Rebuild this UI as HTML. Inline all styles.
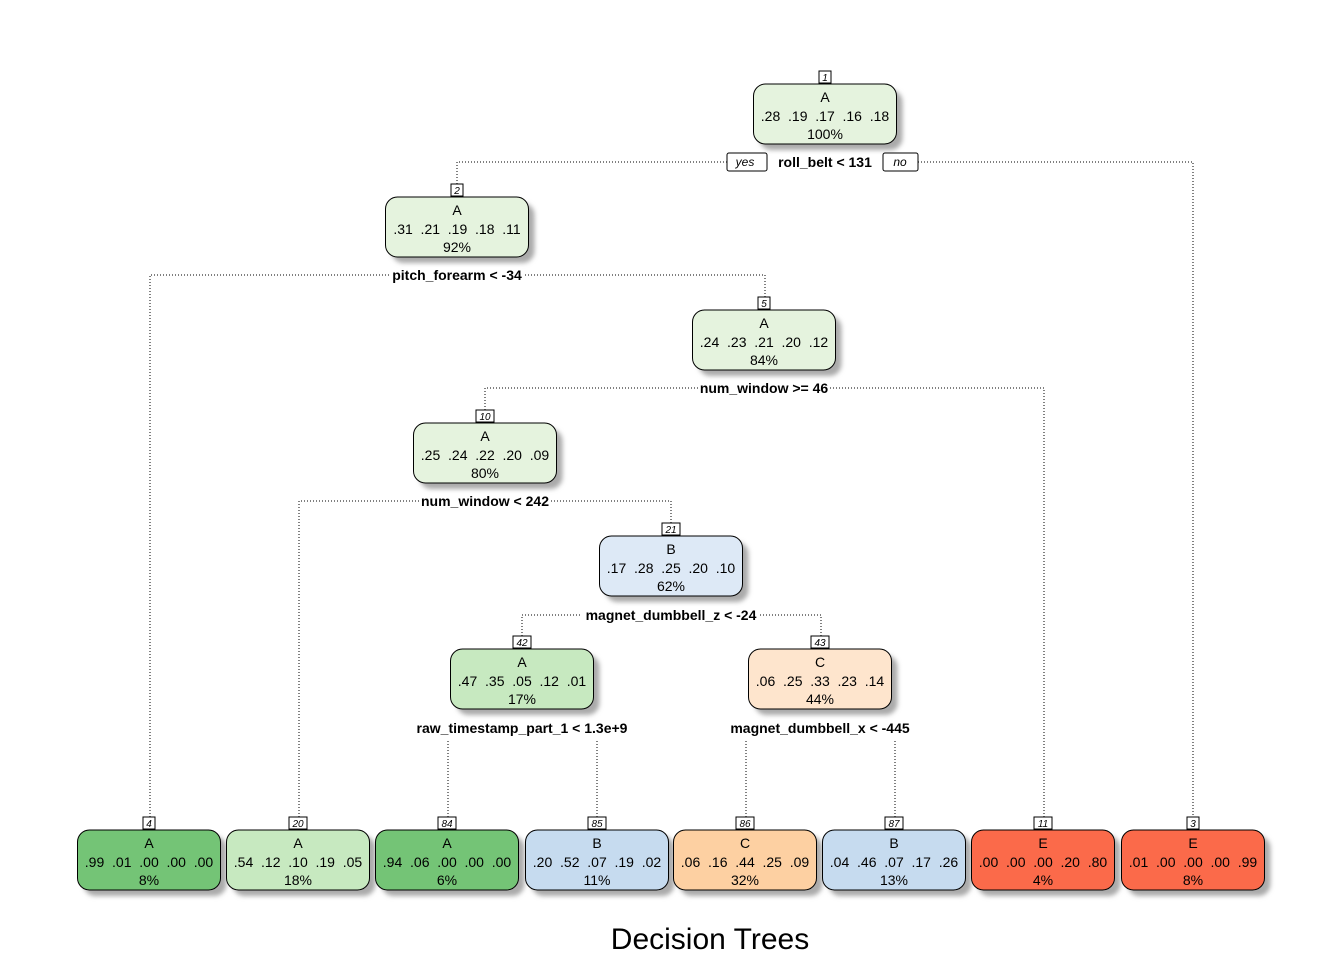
<!DOCTYPE html>
<html><head><meta charset="utf-8"><style>
html,body{margin:0;padding:0;background:#fff;}
svg{display:block;font-family:"Liberation Sans",Arial,sans-serif;}
.t{font-size:14px;text-anchor:middle;fill:#000;white-space:pre;}
.s{font-size:14px;font-weight:bold;text-anchor:middle;}
.n{font-size:10px;font-style:italic;text-anchor:middle;}
.d{stroke:#000;stroke-width:1;stroke-dasharray:1,2;fill:none;}
.sh{fill:#aaa;filter:url(#b);}
.bx{stroke:#000;stroke-width:1;}
.nb{fill:#fff;stroke:#000;stroke-width:1;}
</style></head><body>
<svg width="1344" height="960" viewBox="0 0 1344 960" xmlns="http://www.w3.org/2000/svg">
<defs><filter id="b" x="-20%" y="-20%" width="140%" height="140%"><feGaussianBlur stdDeviation="2.5"/></filter></defs>
<g class="d">
<path d="M457 184 V162 H727 M918 162 H1193 V817"/>
<path d="M150 817 V275 H389 M525 275 H765 V297"/>
<path d="M485 410 V388 H698 M830 388 H1044 V817"/>
<path d="M299 817 V501 H419 M551 501 H671 V523"/>
<path d="M522 636 V615 H581 M760 615 H821 V636"/>
<path d="M448 741 V817 M597 741 V817 M746 741 V817 M895 741 V817"/>
</g>

<g transform="translate(825,84)"><rect class="sh" x="-65.5" y="6" width="143" height="60" rx="12"/><rect class="bx" x="-71.5" y="0" width="143" height="60" rx="12" fill="#e5f3de"/><rect class="nb" x="-6" y="-13" width="12" height="12"/><text y="-3" class="n">1</text><text y="18" class="t">A</text><text y="37" class="t">.28  .19  .17  .16  .18</text><text y="55" class="t">100%</text></g>
<g transform="translate(457,197)"><rect class="sh" x="-65.5" y="6" width="143" height="60" rx="12"/><rect class="bx" x="-71.5" y="0" width="143" height="60" rx="12" fill="#e5f3de"/><rect class="nb" x="-6" y="-13" width="12" height="12"/><text y="-3" class="n">2</text><text y="18" class="t">A</text><text y="37" class="t">.31  .21  .19  .18  .11</text><text y="55" class="t">92%</text></g>
<g transform="translate(764,310)"><rect class="sh" x="-65.5" y="6" width="143" height="60" rx="12"/><rect class="bx" x="-71.5" y="0" width="143" height="60" rx="12" fill="#e5f3de"/><rect class="nb" x="-6" y="-13" width="12" height="12"/><text y="-3" class="n">5</text><text y="18" class="t">A</text><text y="37" class="t">.24  .23  .21  .20  .12</text><text y="55" class="t">84%</text></g>
<g transform="translate(485,423)"><rect class="sh" x="-65.5" y="6" width="143" height="60" rx="12"/><rect class="bx" x="-71.5" y="0" width="143" height="60" rx="12" fill="#e5f3de"/><rect class="nb" x="-9" y="-13" width="18" height="12"/><text y="-3" class="n">10</text><text y="18" class="t">A</text><text y="37" class="t">.25  .24  .22  .20  .09</text><text y="55" class="t">80%</text></g>
<g transform="translate(671,536)"><rect class="sh" x="-65.5" y="6" width="143" height="60" rx="12"/><rect class="bx" x="-71.5" y="0" width="143" height="60" rx="12" fill="#dde9f6"/><rect class="nb" x="-9" y="-13" width="18" height="12"/><text y="-3" class="n">21</text><text y="18" class="t">B</text><text y="37" class="t">.17  .28  .25  .20  .10</text><text y="55" class="t">62%</text></g>
<g transform="translate(522,649)"><rect class="sh" x="-65.5" y="6" width="143" height="60" rx="12"/><rect class="bx" x="-71.5" y="0" width="143" height="60" rx="12" fill="#c7e9c0"/><rect class="nb" x="-9" y="-13" width="18" height="12"/><text y="-3" class="n">42</text><text y="18" class="t">A</text><text y="37" class="t">.47  .35  .05  .12  .01</text><text y="55" class="t">17%</text></g>
<g transform="translate(820,649)"><rect class="sh" x="-65.5" y="6" width="143" height="60" rx="12"/><rect class="bx" x="-71.5" y="0" width="143" height="60" rx="12" fill="#fee5cd"/><rect class="nb" x="-9" y="-13" width="18" height="12"/><text y="-3" class="n">43</text><text y="18" class="t">C</text><text y="37" class="t">.06  .25  .33  .23  .14</text><text y="55" class="t">44%</text></g>

<g transform="translate(149,830)"><rect class="sh" x="-65.5" y="6" width="143" height="60" rx="12"/><rect class="bx" x="-71.5" y="0" width="143" height="60" rx="12" fill="#74c476"/><rect class="nb" x="-6" y="-13" width="12" height="12"/><text y="-3" class="n">4</text><text y="18" class="t">A</text><text y="37" class="t">.99  .01  .00  .00  .00</text><text y="55" class="t">8%</text></g>
<g transform="translate(298,830)"><rect class="sh" x="-65.5" y="6" width="143" height="60" rx="12"/><rect class="bx" x="-71.5" y="0" width="143" height="60" rx="12" fill="#c7e9c0"/><rect class="nb" x="-9" y="-13" width="18" height="12"/><text y="-3" class="n">20</text><text y="18" class="t">A</text><text y="37" class="t">.54  .12  .10  .19  .05</text><text y="55" class="t">18%</text></g>
<g transform="translate(447,830)"><rect class="sh" x="-65.5" y="6" width="143" height="60" rx="12"/><rect class="bx" x="-71.5" y="0" width="143" height="60" rx="12" fill="#74c476"/><rect class="nb" x="-9" y="-13" width="18" height="12"/><text y="-3" class="n">84</text><text y="18" class="t">A</text><text y="37" class="t">.94  .06  .00  .00  .00</text><text y="55" class="t">6%</text></g>
<g transform="translate(597,830)"><rect class="sh" x="-65.5" y="6" width="143" height="60" rx="12"/><rect class="bx" x="-71.5" y="0" width="143" height="60" rx="12" fill="#c6dbef"/><rect class="nb" x="-9" y="-13" width="18" height="12"/><text y="-3" class="n">85</text><text y="18" class="t">B</text><text y="37" class="t">.20  .52  .07  .19  .02</text><text y="55" class="t">11%</text></g>
<g transform="translate(745,830)"><rect class="sh" x="-65.5" y="6" width="143" height="60" rx="12"/><rect class="bx" x="-71.5" y="0" width="143" height="60" rx="12" fill="#fdd0a2"/><rect class="nb" x="-9" y="-13" width="18" height="12"/><text y="-3" class="n">86</text><text y="18" class="t">C</text><text y="37" class="t">.06  .16  .44  .25  .09</text><text y="55" class="t">32%</text></g>
<g transform="translate(894,830)"><rect class="sh" x="-65.5" y="6" width="143" height="60" rx="12"/><rect class="bx" x="-71.5" y="0" width="143" height="60" rx="12" fill="#c6dbef"/><rect class="nb" x="-9" y="-13" width="18" height="12"/><text y="-3" class="n">87</text><text y="18" class="t">B</text><text y="37" class="t">.04  .46  .07  .17  .26</text><text y="55" class="t">13%</text></g>
<g transform="translate(1043,830)"><rect class="sh" x="-65.5" y="6" width="143" height="60" rx="12"/><rect class="bx" x="-71.5" y="0" width="143" height="60" rx="12" fill="#fb6a4a"/><rect class="nb" x="-9" y="-13" width="18" height="12"/><text y="-3" class="n">11</text><text y="18" class="t">E</text><text y="37" class="t">.00  .00  .00  .20  .80</text><text y="55" class="t">4%</text></g>
<g transform="translate(1193,830)"><rect class="sh" x="-65.5" y="6" width="143" height="60" rx="12"/><rect class="bx" x="-71.5" y="0" width="143" height="60" rx="12" fill="#fb6a4a"/><rect class="nb" x="-6" y="-13" width="12" height="12"/><text y="-3" class="n">3</text><text y="18" class="t">E</text><text y="37" class="t">.01  .00  .00  .00  .99</text><text y="55" class="t">8%</text></g>

<rect x="727" y="153" width="40" height="18" rx="2" fill="#fff" stroke="#000"/>
<text x="745" y="166" class="n" style="font-size:12px">yes</text>
<rect x="883" y="153" width="35" height="18" rx="2" fill="#fff" stroke="#000"/>
<text x="900" y="166" class="n" style="font-size:12px">no</text>
<text x="825" y="167" class="s">roll_belt &lt; 131</text>
<text x="457" y="280" class="s">pitch_forearm &lt; -34</text>
<text x="764" y="393" class="s">num_window &gt;= 46</text>
<text x="485" y="506" class="s">num_window &lt; 242</text>
<text x="671" y="620" class="s">magnet_dumbbell_z &lt; -24</text>
<text x="522" y="733" class="s">raw_timestamp_part_1 &lt; 1.3e+9</text>
<text x="820" y="733" class="s">magnet_dumbbell_x &lt; -445</text>
<text x="710" y="949" style="font-size:30px;text-anchor:middle">Decision Trees</text>
</svg>
</body></html>
